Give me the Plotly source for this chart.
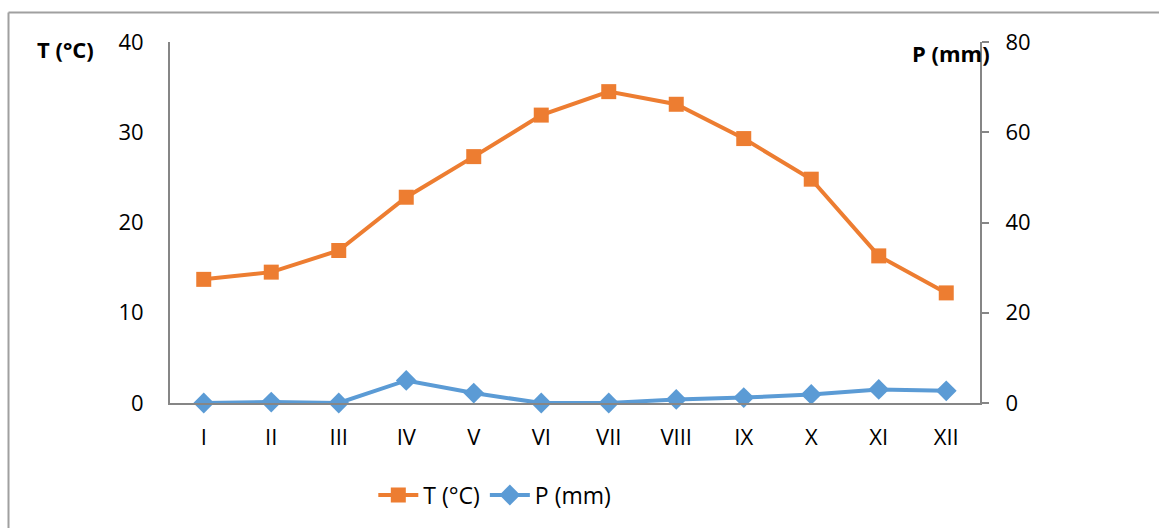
import plotly.graph_objects as go

months = ["I", "II", "III", "IV", "V", "VI", "VII", "VIII", "IX", "X", "XI", "XII"]
temperature = [13.7, 14.5, 16.9, 22.8, 27.3, 31.9, 34.5, 33.1, 29.3, 24.8, 16.3, 12.2]
precipitation = [0.0, 0.2, 0.0, 5.0, 2.2, 0.0, 0.0, 0.8, 1.2, 1.9, 3.0, 2.7]

ORANGE = "#ED7D31"
BLUE = "#5B9BD5"
AXIS = "#868686"
FONT = "Open Sans"

fig = go.Figure()
fig.add_trace(go.Scatter(
    x=months, y=temperature, name="T (°C)", mode="lines+markers",
    line=dict(color=ORANGE, width=4),
    marker=dict(symbol="square", size=15, color=ORANGE),
    cliponaxis=False, yaxis="y"))
fig.add_trace(go.Scatter(
    x=months, y=precipitation, name="P (mm)", mode="lines+markers",
    line=dict(color=BLUE, width=4),
    marker=dict(symbol="diamond", size=16, color=BLUE),
    cliponaxis=False, yaxis="y2"))

fig.update_layout(
    width=1159, height=528,
    margin=dict(l=170, r=179, t=42, b=125, autoexpand=False),
    paper_bgcolor="white", plot_bgcolor="white",
    font=dict(family=FONT, size=22, color="#000000"),
    showlegend=True,
    legend=dict(orientation="h", x=0.401, xanchor="center", y=-0.255, yanchor="middle",
                font=dict(family=FONT, size=23), itemwidth=40, bgcolor="rgba(0,0,0,0)"),
    xaxis=dict(type="category", range=[-0.5, 11.5], showline=True, linecolor=AXIS, linewidth=2,
               ticks="", showgrid=False, zeroline=False, ticklabelstandoff=14,
               tickfont=dict(family=FONT, size=22)),
    yaxis=dict(range=[0, 40], dtick=10, showline=True, linecolor=AXIS, linewidth=2,
               ticks="", showgrid=False, zeroline=False, ticklabelstandoff=20,
               tickfont=dict(family=FONT, size=22)),
    yaxis2=dict(range=[0, 80], dtick=20, overlaying="y", side="right", showline=True,
                linecolor=AXIS, linewidth=2, ticks="outside", ticklen=7, tickwidth=2,
                tickcolor=AXIS, showgrid=False, zeroline=False, ticklabelstandoff=12,
                tickfont=dict(family=FONT, size=22)),
    annotations=[
        dict(text="<b>T (°C)</b>", xref="paper", yref="paper", x=(65 - 170) / 810,
             y=(403 - 49) / 361, xanchor="center", yanchor="middle", showarrow=False,
             font=dict(family=FONT, size=22)),
        dict(text="<b>P (mm)</b>", xref="paper", yref="paper", x=(951 - 170) / 810,
             y=(403 - 53) / 361, xanchor="center", yanchor="middle", showarrow=False,
             font=dict(family=FONT, size=22)),
    ],
    shapes=[
        dict(type="line", xref="paper", yref="paper",
             x0=(8.5 - 170) / 810, x1=(1159 - 170) / 810,
             y0=(403 - 12.5) / 361, y1=(403 - 12.5) / 361,
             line=dict(color="#A0A0A0", width=2)),
        dict(type="line", xref="paper", yref="paper",
             x0=(8.5 - 170) / 810, x1=(8.5 - 170) / 810,
             y0=(403 - 12.5) / 361, y1=(403 - 528) / 361,
             line=dict(color="#A0A0A0", width=2)),
    ],
)

fig.write_html("out.html")
